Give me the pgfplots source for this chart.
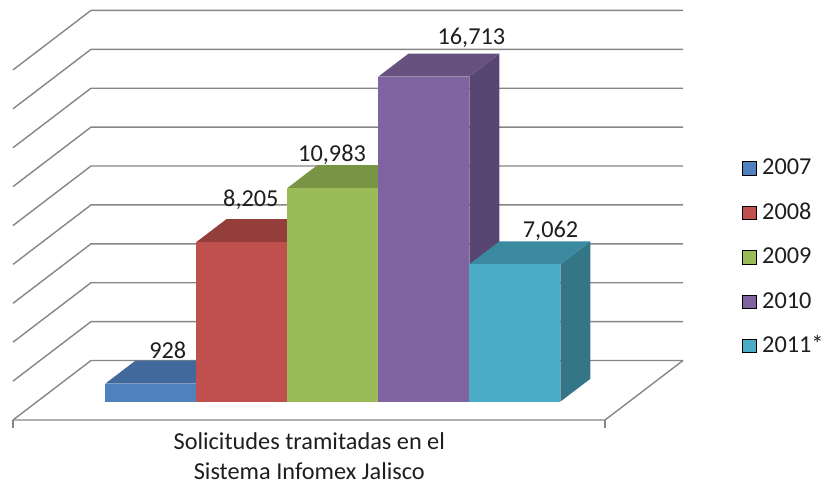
\documentclass[border=0pt]{standalone}
\usepackage{pgfplots}
\pgfplotsset{compat=1.18}
\usepackage{fontspec}
\setmainfont{Carlito}
\definecolor{gridc}{RGB}{134,134,134}
\definecolor{txt}{RGB}{30,30,30}
\definecolor{bF}{HTML}{4F81BD}\definecolor{bT}{HTML}{41699B}\definecolor{bS}{HTML}{365A85}
\definecolor{rF}{HTML}{C0504D}\definecolor{rT}{HTML}{943E3B}\definecolor{rS}{HTML}{863836}
\definecolor{gF}{HTML}{9BBB59}\definecolor{gT}{HTML}{7A9446}\definecolor{gS}{HTML}{6C833E}
\definecolor{pF}{HTML}{8064A2}\definecolor{pT}{HTML}{67517F}\definecolor{pS}{HTML}{584672}
\definecolor{cF}{HTML}{4BACC6}\definecolor{cT}{HTML}{3C8A9F}\definecolor{cS}{HTML}{347687}
\newcommand{\lbl}{\fontsize{24.3}{29}\selectfont}
\begin{document}
\begin{tikzpicture}
\begin{axis}[
  hide axis, clip=false,
  x={(1pt,0pt)}, y={(78pt,59.5pt)}, z={(0pt,0.01945pt)},
  xmin=0, xmax=824, ymin=0, ymax=1, zmin=-4113, zmax=21594,
  grid line/.style={draw=gridc, line width=1.4pt, forget plot},
  legend image code/.code={\fill[#1] (0pt,-7.5pt) rectangle (13.5pt,5.8pt);},
  legend cell align=left,
  legend style={at={(axis cs:742.3,0,13368)}, anchor=north west, draw=none, fill=none,
    inner sep=0pt, outer sep=0pt, row sep=29.2pt, column sep=6pt, font=\lbl, text=txt,
    nodes={inner sep=0pt, outer sep=0pt, text height=15pt, text depth=0pt}},
]
% walls and floor
\pgfplotsinvokeforeach{0,2000,4000,6000,8000,10000,12000,14000,16000,18000}{
  \addplot3[grid line] coordinates {(13,0,#1) (13,1,#1) (605,1,#1)};
}
\addplot3[grid line] coordinates {(13,0,0) (605,0,0) (605,1,0)};
\addplot3[grid line] coordinates {(13,0,0) (13,0,-411)};
\addplot3[grid line] coordinates {(605,0,0) (605,0,-411)};
% bars: x0, x1, value ; front depth 0.308, back depth 0.693
% 2007: 928
\addplot3[fill=bS, draw=none, forget plot] coordinates {(172.3,0.308,0) (172.3,0.693,0) (172.3,0.693,928) (172.3,0.308,928)};
\addplot3[fill=bT, draw=none, forget plot] coordinates {(81.3,0.308,928) (172.3,0.308,928) (172.3,0.693,928) (81.3,0.693,928)};
\addplot3[fill=bF, draw=none, forget plot] coordinates {(81.3,0.308,0) (172.3,0.308,0) (172.3,0.308,928) (81.3,0.308,928)};
% 2008: 8205
\addplot3[fill=rS, draw=none, forget plot] coordinates {(263.3,0.308,0) (263.3,0.693,0) (263.3,0.693,8205) (263.3,0.308,8205)};
\addplot3[fill=rT, draw=none, forget plot] coordinates {(172.3,0.308,8205) (263.3,0.308,8205) (263.3,0.693,8205) (172.3,0.693,8205)};
\addplot3[fill=rF, draw=none, forget plot] coordinates {(172.3,0.308,0) (263.3,0.308,0) (263.3,0.308,8205) (172.3,0.308,8205)};
% 2009: 10983
\addplot3[fill=gS, draw=none, forget plot] coordinates {(354.3,0.308,0) (354.3,0.693,0) (354.3,0.693,10983) (354.3,0.308,10983)};
\addplot3[fill=gT, draw=none, forget plot] coordinates {(263.3,0.308,10983) (354.3,0.308,10983) (354.3,0.693,10983) (263.3,0.693,10983)};
\addplot3[fill=gF, draw=none, forget plot] coordinates {(263.3,0.308,0) (354.3,0.308,0) (354.3,0.308,10983) (263.3,0.308,10983)};
% 2010: 16713
\addplot3[fill=pS, draw=none, forget plot] coordinates {(445.3,0.308,0) (445.3,0.693,0) (445.3,0.693,16713) (445.3,0.308,16713)};
\addplot3[fill=pT, draw=none, forget plot] coordinates {(354.3,0.308,16713) (445.3,0.308,16713) (445.3,0.693,16713) (354.3,0.693,16713)};
\addplot3[fill=pF, draw=none, forget plot] coordinates {(354.3,0.308,0) (445.3,0.308,0) (445.3,0.308,16713) (354.3,0.308,16713)};
% 2011*: 7062
\addplot3[fill=cS, draw=none, forget plot] coordinates {(536.3,0.308,0) (536.3,0.693,0) (536.3,0.693,7062) (536.3,0.308,7062)};
\addplot3[fill=cT, draw=none, forget plot] coordinates {(445.3,0.308,7062) (536.3,0.308,7062) (536.3,0.693,7062) (445.3,0.693,7062)};
\addplot3[fill=cF, draw=none, forget plot] coordinates {(445.3,0.308,0) (536.3,0.308,0) (536.3,0.308,7062) (445.3,0.308,7062)};
% data labels
\node[anchor=base, font=\lbl, text=txt, yshift=2.4pt] at (axis cs:113.7,0.693,928) {928};
\node[anchor=base, font=\lbl, text=txt, yshift=12.5pt] at (axis cs:196.8,0.693,8205) {8,205};
\node[anchor=base, font=\lbl, text=txt, yshift=3.5pt] at (axis cs:278,0.693,10983) {10,983};
\node[anchor=base, font=\lbl, text=txt, yshift=9.5pt] at (axis cs:417.3,0.693,16713) {16,713};
\node[anchor=base, font=\lbl, text=txt, yshift=4pt] at (axis cs:496.5,0.693,7062) {7,062};
% category label
\node[anchor=base, font=\lbl, text=txt, yshift=-29.5pt] at (axis cs:309.3,0,0) {Solicitudes tramitadas en el};
\node[anchor=base, font=\lbl, text=txt, yshift=-59pt] at (axis cs:309.3,0,0) {Sistema Infomex Jalisco};
% legend
\addlegendimage{fill=bF}\addlegendentry{2007}
\addlegendimage{fill=rF}\addlegendentry{2008}
\addlegendimage{fill=gF}\addlegendentry{2009}
\addlegendimage{fill=pF}\addlegendentry{2010}
\addlegendimage{fill=cF}\addlegendentry{2011*}
\coordinate (bbTL) at (axis cs:0,0,21594);
\coordinate (bbBR) at (axis cs:824,0,-4113);
\end{axis}
\pgfresetboundingbox
\path[use as bounding box] (bbTL) rectangle (bbBR);
\end{tikzpicture}
\end{document}
